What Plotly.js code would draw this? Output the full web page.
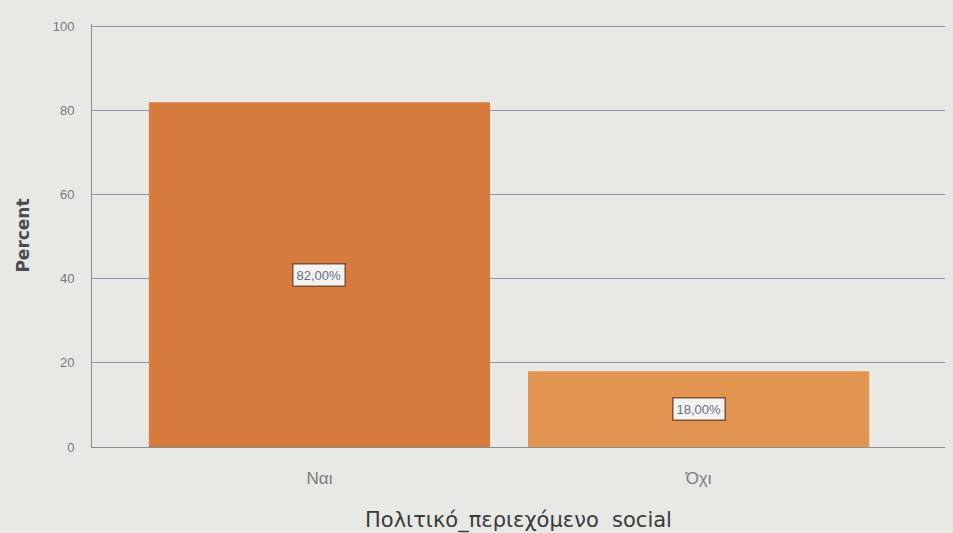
<!DOCTYPE html>
<html>
<head>
<meta charset="utf-8">
<script src="https://cdn.plot.ly/plotly-3.0.1.min.js"></script>
<style>html,body{margin:0;padding:0;background:#e8e9e5;}#chart{width:953px;height:533px;}</style>
</head>
<body>
<div id="chart"></div>
<script>
const categories = ["Ναι", "Όχι"];
const percents = [82.0, 18.0];
const barLabels = ["82,00%", "18,00%"];
const yTicks = [0, 20, 40, 60, 80, 100];
const barColors = ["#d77a3d", "#e29550"];

const trace = {
  type: "bar",
  x: categories,
  y: percents,
  width: 0.9,
  marker: {color: barColors, line: {width: 0}},
  hoverinfo: "none"
};

const annotations = categories.map((c, i) => ({
  x: c, y: percents[i] / 2, xref: "x", yref: "y",
  text: barLabels[i], showarrow: false,
  bgcolor: "#f4f3f0", bordercolor: "#7d5236", borderwidth: 1.5, borderpad: 3,
  font: {family: "Liberation Sans, Arial, sans-serif", size: 13, color: "#6a6f85"}
}));

const layout = {
  width: 953, height: 533,
  margin: {l: 92, r: 8, t: 24, b: 86},
  paper_bgcolor: "#e8e9e5",
  plot_bgcolor: "#e8e9e5",
  showlegend: false,
  bargap: 0.1,
  xaxis: {
    range: [-0.6, 1.65],
    showgrid: false,
    showline: true, linecolor: "#8a8d92", linewidth: 1,
    ticks: "", ticklabelstandoff: 16,
    tickfont: {family: "Liberation Sans, Arial, sans-serif", size: 17, color: "#777a80"},
    title: {text: "Πολιτικό_περιεχόμενο  social", standoff: 24,
            font: {family: "DejaVu Sans, sans-serif", size: 21, color: "#3a3a3c"}},
    zeroline: false
  },
  yaxis: {
    range: [0, 100.6],
    tickvals: yTicks,
    showgrid: true, gridcolor: "#8f96ab", gridwidth: 1.2,
    showline: true, linecolor: "#8a8d92", linewidth: 1,
    ticks: "", ticklabelstandoff: 14,
    tickfont: {family: "Liberation Sans, Arial, sans-serif", size: 13, color: "#77797e"},
    title: {text: "Percent", standoff: 18,
            font: {family: "DejaVu Sans, sans-serif", size: 17, weight: "bold", color: "#4a4b50"}},
    zeroline: false
  },
  annotations: annotations
};

Plotly.newPlot("chart", [trace], layout, {displayModeBar: false, staticPlot: true});
</script>
</body>
</html>
